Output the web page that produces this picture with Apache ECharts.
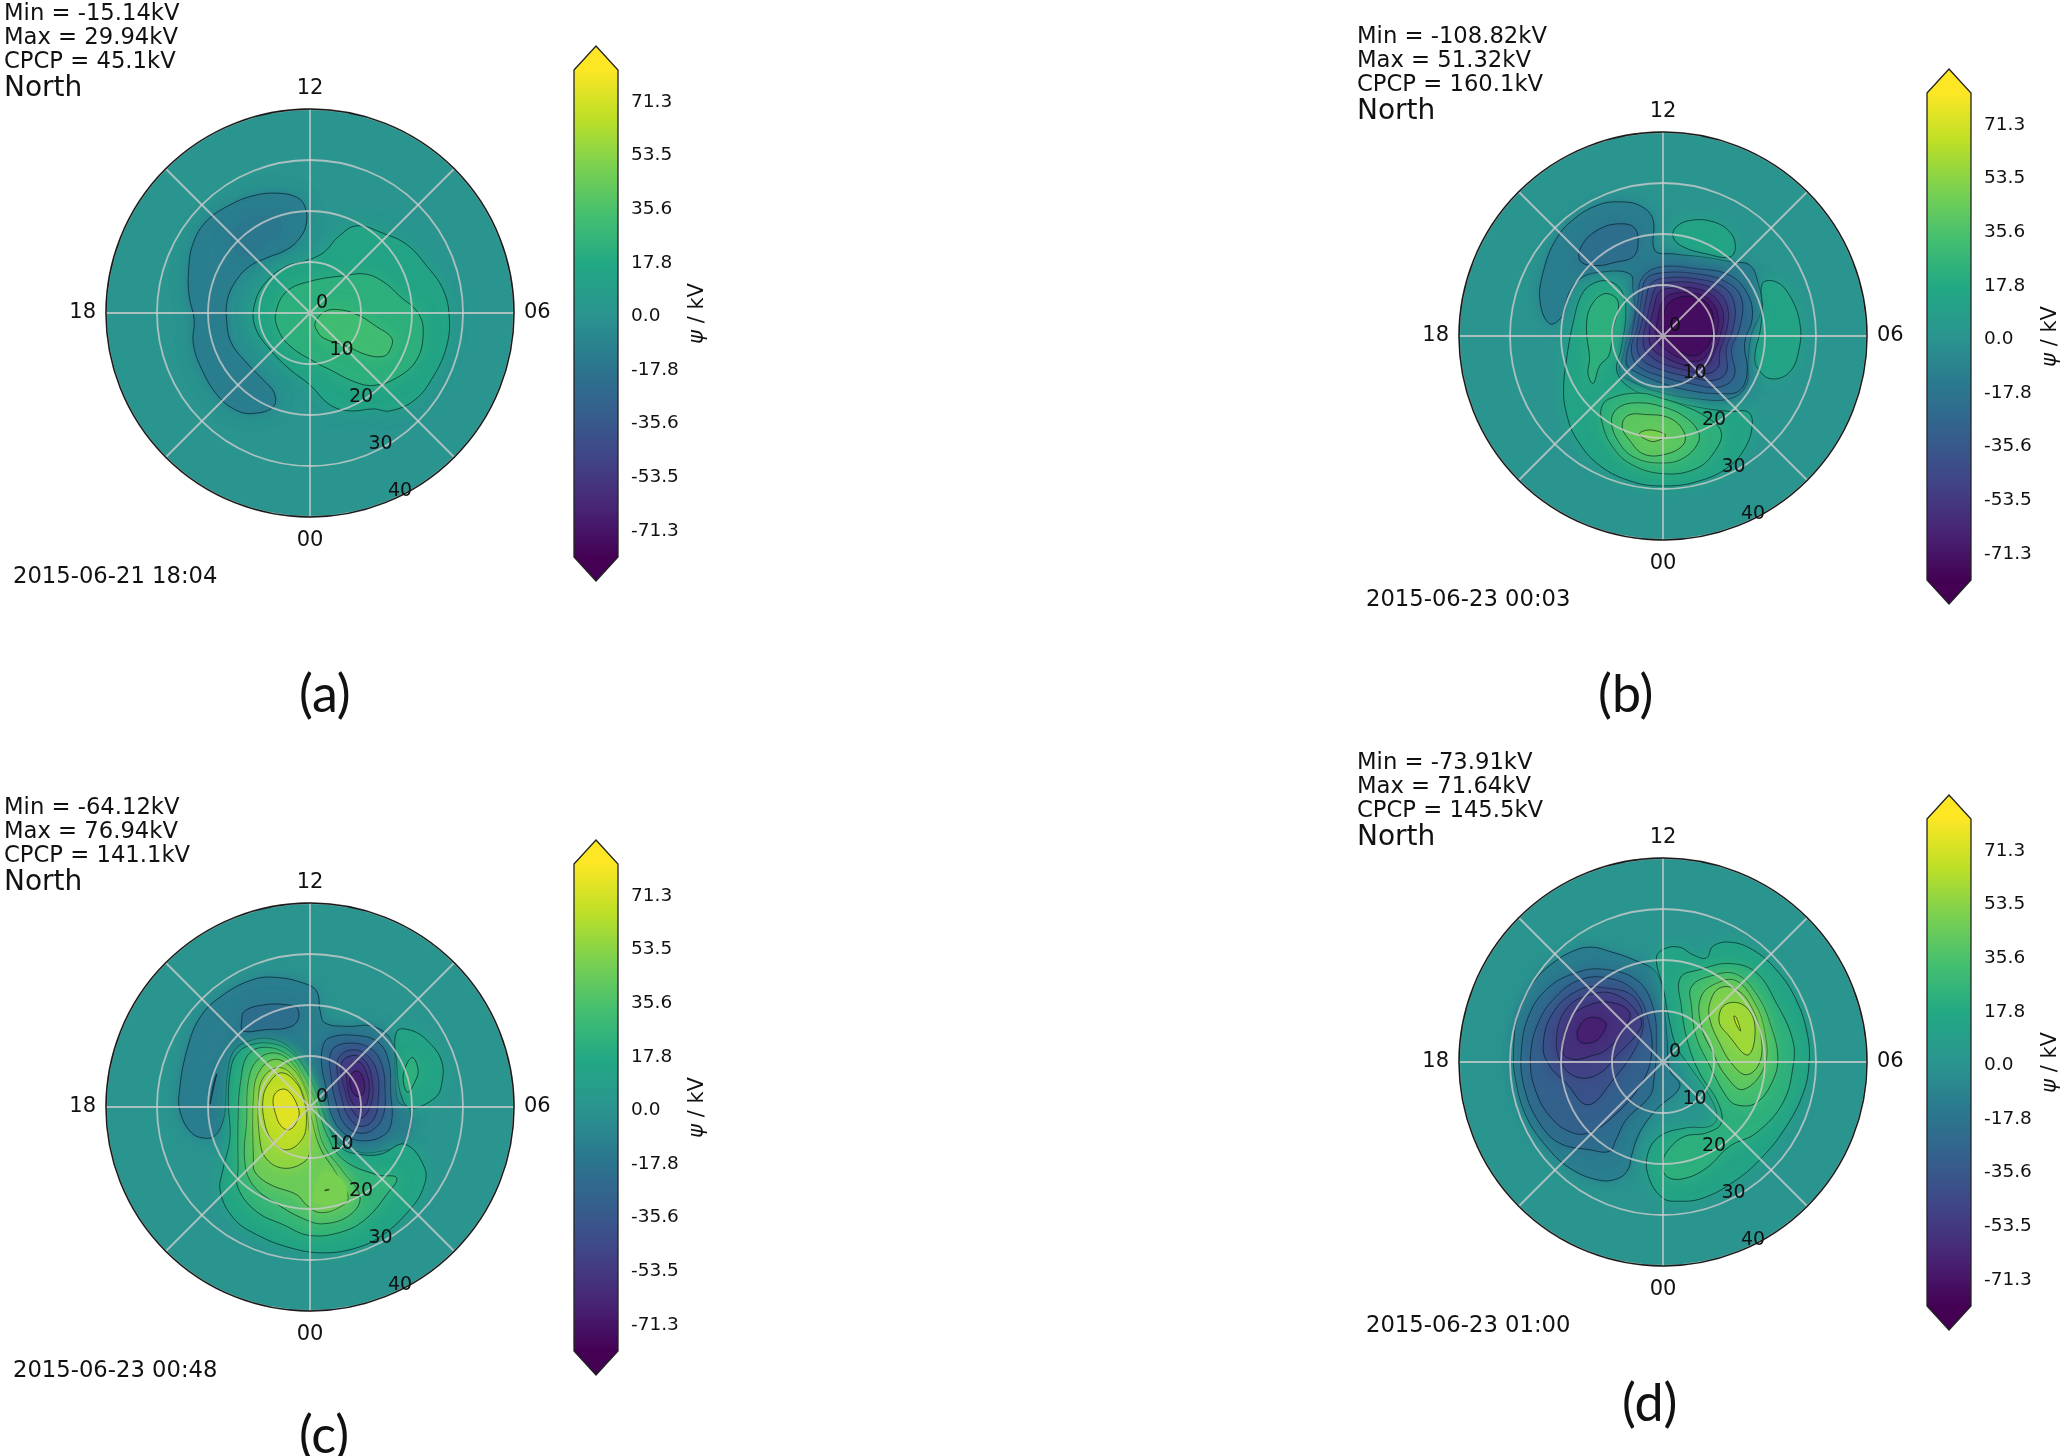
<!DOCTYPE html>
<html>
<head>
<meta charset="utf-8">
<style>html,body{margin:0;padding:0;background:#fff}#c{width:2067px;height:1456px}</style>
<script src="https://cdn.jsdelivr.net/npm/echarts@6/dist/echarts.min.js"></script>
</head>
<body>
<div id="c"></div>
<script>
// Text of each panel
const minLabels = ['Min = -15.14kV', 'Min = -108.82kV', 'Min = -64.12kV', 'Min = -73.91kV'];
const maxLabels = ['Max = 29.94kV', 'Max = 51.32kV', 'Max = 76.94kV', 'Max = 71.64kV'];
const cpcpLabels = ['CPCP = 45.1kV', 'CPCP = 160.1kV', 'CPCP = 141.1kV', 'CPCP = 145.5kV'];
const hemisphere = 'North';
const dateLabels = ['2015-06-21 18:04', '2015-06-23 00:03', '2015-06-23 00:48', '2015-06-23 01:00'];
const captions = ['(a)', '(b)', '(c)', '(d)'];
const hourLabels = {0: '00', 6: '06', 12: '12', 18: '18'};
const radiusTicks = [0, 10, 20, 30, 40];
const colorbarTicks = [-71.3, -53.5, -35.6, -17.8, 0, 17.8, 35.6, 53.5, 71.3];
const colorbarEnds = [-89, -81, 81, 89];

// Contours: [level kV, [[towards 06, towards 12] in degrees colatitude ...], outlined?]
const contoursA = [
  [-8.9, [[-1,20.9],[-2.6,22.7],[-6.5,23.5],[-11.1,23],[-15.7,21.2],[-20.3,18],[-22.9,13.7],[-23.8,8.5],[-23.7,3.3],[-22.7,-1.3],[-22.9,-5.9],[-21.2,-11.1],[-18,-16.3],[-14.4,-19.1],[-11.1,-19.7],[-7.2,-18.4],[-7,-15.7],[-9.2,-13.1],[-12.4,-9.8],[-15.4,-5.9],[-16.3,-2],[-16.2,2.6],[-14.4,6.5],[-11.8,9.2],[-8.5,10.8],[-4.6,12.4],[-2,14.7],[-0.7,17.6]]],
  [-13, [[-15.7,14.4],[-12.4,18.3],[-6.5,18.9],[-5.6,16.3],[-9.8,13.1],[-13.1,11.1]], false],
  [8.9, [[2.6,11.8],[5.6,15],[9.2,17.1],[14.4,15.6],[19,13.4],[22.9,9.2],[26.1,4.6],[27.3,-0.7],[26.8,-6.5],[24.2,-12.4],[20.6,-17],[15.7,-19.2],[12.4,-18.8],[7.8,-19.2],[3.9,-18],[0,-14.1],[-3.9,-11.1],[-7.8,-7.2],[-10.8,-2.6],[-10.8,2],[-8.5,6.2],[-4.6,9.2],[-1.3,10.1]]],
  [17.8, [[-6.7,0],[-4.6,4.2],[0,6.2],[6.5,7.3],[11.1,7.6],[14.7,5.9],[17.6,3.3],[21.2,0],[22.2,-3.9],[20.9,-9.2],[17,-12.7],[12.4,-14.2],[8.5,-13.4],[3.9,-11.1],[1.3,-9.8],[-3.9,-6.5],[-6.2,-3.3]]],
  [26.7, [[1,-2],[2.6,0.1],[5.2,0.7],[9.2,-0.3],[13.1,-2.7],[16,-4.9],[15.7,-7.2],[14.4,-8.5],[11.1,-8.2],[7.2,-6.5],[2.6,-4.9],[1.3,-3.3]]]
];
const contoursB = [
  [-8.9, [[-1.6,16.8],[-2,23],[-4.6,25.6],[-8.5,26.3],[-12.4,25.8],[-17,23.3],[-20.9,19.1],[-23.5,12.5],[-24.1,6.7],[-22.2,2.4],[-19.6,4.1],[-18.6,8],[-16.3,11.2],[-12.4,12.5],[-6.5,12.2],[-5.9,9.3],[-5.6,4.1],[-6.9,0.1],[-7.8,-3.8],[-8.5,-7.1],[-5.9,-9],[-0.7,-11],[6.5,-12.3],[13.1,-12.3],[16.3,-9.7],[16.7,-5.1],[17.3,0.1],[19.3,5.4],[18.6,10.6],[17,13.9],[13.7,14.5],[7.8,15.5],[2,16.1]]],
  [-17.8, [[-16.3,14.8],[-15.7,18.1],[-12.4,21],[-8.5,22],[-5.6,21.2],[-4.9,18.1],[-5.9,15.5],[-9.2,14.5],[-13.1,13.8]]],
  [-17.8, [[-4.2,11.2],[-0.7,13.5],[6.5,13.2],[13.1,11.9],[16.7,8],[17.5,3.4],[16,-1.2],[16.5,-7.1],[15,-10.7],[11.1,-11.3],[5.2,-10.7],[0,-9.3],[-5.2,-7.1],[-7.2,-5.4],[-6.2,0.1],[-4.9,6.7]]],
  [-26.7, [[-3.3,11.2],[0,12.4],[6.5,12.2],[12.4,10.6],[15.4,7.3],[15,1.4],[13.4,-2.5],[14,-7.7],[11.1,-10],[5.2,-9.3],[0,-8],[-4.9,-5.8],[-6.2,-2.5],[-5.1,1.4],[-4.2,7.3]]],
  [-35.6, [[-2.3,10.3],[0.7,11.4],[6.5,11.2],[11.8,9.6],[14,6.3],[13.7,1.4],[12.4,-2.5],[12.4,-7.1],[9.8,-8.7],[5.2,-8],[0,-6.7],[-3.9,-4.8],[-5.1,-1.8],[-4.1,2.7],[-3.3,7.3]]],
  [-44.5, [[-1.3,9.6],[1.3,10.5],[6.5,10.3],[10.8,8.6],[12.7,5.4],[12.4,0.8],[11.1,-3.1],[10.8,-6.1],[8.5,-7.4],[4.6,-6.7],[0,-5.4],[-2.9,-3.5],[-3.9,-1.2],[-3.1,3.4],[-2.3,7]]],
  [-53.4, [[-0.7,8.6],[2,9.4],[6.5,9.3],[10.1,7.6],[11.8,4.4],[11.4,0.8],[10.1,-3.1],[8.5,-5.8],[4.6,-5.8],[0.3,-4.1],[-2.3,-2.2],[-2.6,1.4],[-1.8,5.4]]],
  [-62.3, [[0.3,7.3],[2.6,8.4],[6.5,8.3],[9.5,6.7],[10.8,3.7],[10.5,0.5],[9.2,-2.8],[7.2,-4.8],[4.2,-4.6],[0.7,-2.8],[-1.2,-0.5],[-1,3.4]]],
  [-71.2, [[0.8,6],[3.3,7.6],[6.9,7.5],[9.2,5.7],[9.9,2.7],[9.5,-0.5],[7.8,-3.1],[5.6,-3.9],[2.6,-2.5],[0.7,-0.2],[0.1,2.7]]],
  [8.9, [[2,19.4],[2.6,21.4],[5.6,22.7],[9.8,22.4],[13.1,20.4],[14.2,17.5],[13.1,15.5],[8.5,16.1],[3.9,17.5]]],
  [8.9, [[19.5,10.3],[22.2,10.6],[24.8,8],[26.8,2.7],[26.7,-2.5],[24.8,-7.1],[21.2,-8.4],[18.6,-6.4],[18,-3.8],[19,0.8],[19.5,5.4]]],
  [8.9, [[-13.7,10.3],[-10.5,10.7],[-8,8.6],[-7.3,4.1],[-8.2,-2.5],[-9,-7.1],[-5.6,-10.7],[0,-12.3],[6.5,-13.9],[13.1,-14.8],[16.7,-14.9],[17.5,-17.5],[16,-22.1],[12.4,-26],[6.5,-28.6],[0,-29.4],[-5.9,-28.6],[-12.4,-25.4],[-17,-20.1],[-19,-14.9],[-19.5,-10.3],[-18.8,-3.8],[-17.6,2.7],[-16,8]]],
  [17.8, [[-11.4,8.3],[-8.8,6.7],[-9.8,1.4],[-10.6,-3.8],[-12.4,-5.8],[-13.7,-9.3],[-14.7,-7.4],[-14.4,-4.4],[-15,1.4],[-14.2,5.7]]],
  [17.8, [[-12.1,-14.2],[-10.5,-12.3],[-4.6,-11.2],[0,-12.3],[3.9,-13.6],[8.5,-15.9],[11.4,-18.8],[10.1,-22.7],[6.5,-26],[0,-27],[-6.5,-25],[-10.1,-21.4],[-11.8,-17.5]]],
  [26.7, [[-10.1,-16.5],[-8.5,-13.9],[-4.6,-13.1],[0,-13.9],[3.9,-15.6],[6.8,-18.5],[6.8,-21.1],[3.9,-24],[0,-24.9],[-5.2,-24],[-8.5,-21.1]]],
  [35.6, [[-8,-17.8],[-6.9,-15.6],[-3.3,-15.4],[1.3,-16.1],[4.1,-18.8],[3.9,-21.4],[0,-23.3],[-3.9,-23.1],[-6.5,-20.5]]],
  [44.5, [[-4.6,-19.2],[-3.3,-18.5],[-1.3,-18.6],[0.5,-19.5],[-1,-20.5],[-2.6,-20.6]]]
];
const contoursC = [
  [-8.9, [[2,18.8],[1.3,22.7],[-1.3,24.3],[-6.5,25.4],[-11.1,25],[-17,22],[-21.6,17.5],[-24.2,10.9],[-25.6,3.1],[-25.5,-0.8],[-23.5,-4.8],[-20.9,-6.1],[-18.6,-5.6],[-16.9,-2.2],[-16.5,1.8],[-16.2,6.3],[-15,10.9],[-12.1,12.9],[-7.8,13.4],[-3.9,11.6],[-1,7.6],[1,3.1],[2.9,-1.5],[4.9,-6.1],[9.2,-8.7],[13.7,-8.7],[18.6,-6.7],[19.6,-0.5],[17.3,1.1],[16.7,7],[16,12.9],[12.4,15.8],[7.2,15.8],[2.9,16.5]]],
  [-17.8, [[-13.4,16.8],[-12.8,18.8],[-9.2,20],[-5.2,20.1],[-2.5,19.3],[-2.5,16.8],[-4.6,15.5],[-8.5,15.2],[-13.1,14.9]]],
  [-17.8, [[-18.3,6.5],[-19.1,3.7],[-19.6,0.6],[-18.9,3.7]]],
  [-17.8, [[2.6,12.2],[3.9,13.6],[7.8,14.1],[13.1,12.9],[15.4,9],[15.8,3],[16,-2.8],[14.4,-5.6],[9.8,-6.6],[6.5,-5],[4.2,-1.5],[3.3,3],[2.3,8.2]]],
  [-26.7, [[4.2,10.9],[7.2,12.5],[11.8,11.5],[14.1,8.2],[14.7,3],[14.4,-1.5],[12.4,-4.4],[9.5,-5.1],[6.9,-3.5],[5.2,0.5],[4.2,5.5]]],
  [-35.6, [[5.6,9.6],[8.2,11.2],[11.1,10.2],[13.1,7],[13.4,1.8],[12.4,-2.5],[9.8,-3.8],[7.5,-1.8],[6.2,1.8],[5.4,6.3]]],
  [-44.5, [[6.2,8.6],[8.5,10.1],[10.8,9],[12.1,5.7],[12.1,1.1],[10.1,-2.2],[8.2,-0.5],[6.9,3]]],
  [-53.4, [[7.5,7.6],[9.5,8.9],[11.1,6.6],[11.6,3.1],[10.5,-0.2],[8.5,0.5],[7.3,4.4]]],
  [-62.3, [[8,6.3],[9.5,7],[10.6,4.9],[10.5,2.7],[9.2,2.1],[8,3.7]]],
  [8.9, [[17,14.8],[19.9,15],[23.1,12.9],[25.8,9],[25.8,4.4],[24.5,1.8],[19.9,-0.2],[18,1.8],[17,8.4]]],
  [17.8, [[20,9.7],[21.2,7.3],[20.6,5],[19.1,2.9],[18.3,6.3]]],
  [10, [[-17.6,-16.5],[-17,-12],[-15.7,-6.1],[-16,1.1],[-15.6,7],[-14.4,10.3],[-11.8,12.1],[-7.8,12.5],[-3.9,10.9],[-0.7,7],[1.6,1.8],[3.6,-3.8],[6.2,-8],[9.2,-9.2],[13.7,-9.3],[18.6,-7.3],[22.5,-12],[22.2,-15.9],[19.6,-20.1],[14.4,-25],[9.2,-27.6],[2.6,-28.6],[-3.9,-27.6],[-10.5,-25],[-15,-21.8]]],
  [20, [[-14.1,-12],[-14.1,-2.2],[-13.6,5],[-12.1,10.3],[-8.5,11.7],[-3.9,9.9],[-1.3,6.3],[1.3,0.5],[3.3,-5.4],[6.5,-10.3],[13.1,-13.3],[17,-13.9],[15,-17.2],[11.1,-21.8],[6.5,-24.4],[0,-25.2],[-5.2,-23.1],[-10.5,-20.5],[-14.1,-15.9]]],
  [30, [[-12.8,-10.7],[-12.4,-2.2],[-12.1,5],[-10.5,9],[-7.2,10.6],[-3.9,9],[-1.3,5],[0.7,-0.2],[2.6,-7.3],[6.5,-12.7],[9.8,-17.6],[7.8,-21.2],[2.6,-22.9],[-1.3,-21.9],[-6.5,-19],[-11.1,-15.4]]],
  [40, [[-11.1,-10],[-11.1,1.8],[-10.1,6.7],[-7.2,9.3],[-3.9,8],[-1,3.7],[0.3,-2.2],[2,-8],[4.9,-12.6],[7.5,-17.6],[5.9,-19.6],[2,-20.7],[-0.7,-19.2],[-2.6,-17.2],[-7.8,-15.2],[-10.8,-12.7]]],
  [44, [[2.6,-12.6],[5.9,-13.9],[7.2,-17.2],[3.9,-19.2],[0.7,-18.3],[1.3,-15.4]], false],
  [50, [[2.9,-16.3],[3.7,-16.1],[3.7,-16.3],[2.9,-16.4]]],
  [50, [[-9.8,-6.7],[-10.1,1.8],[-9.2,5.7],[-6.5,7.7],[-3.9,6.7],[-1.3,2.4],[-0.3,-3.5],[0,-8.7],[-1.3,-10.9],[-5.2,-12],[-8.5,-10.2]]],
  [60, [[-8.8,-3.5],[-9.2,1.8],[-7.8,5],[-5.6,6.7],[-2.9,5],[-1.3,1.8],[-0.7,-2.8],[-1.6,-6.4],[-4.6,-8.4],[-7.2,-6.8]]],
  [70, [[-6.7,-1.5],[-7.2,1.8],[-5.9,3.4],[-4.2,3.1],[-2.3,-0.2],[-2.3,-2.2],[-3.9,-4.4],[-5.6,-3.8]]]
];
const contoursD = [
  [-8.9, [[-10.5,21.7],[-13.7,22.5],[-17,22],[-21.6,19.4],[-25.5,15.5],[-28.4,9.6],[-29.3,1.8],[-28.9,-3.5],[-26.8,-10.7],[-22.9,-16.5],[-18.3,-20.8],[-12.4,-23.2],[-8.5,-22.7],[-6.7,-20.8],[-6.2,-18.5],[-4.6,-13.9],[-1.3,-9.3],[3.3,-4.8],[1.3,-1.5],[0.8,4.4],[0,12.2],[-1.3,17.5],[-5.9,20.1]]],
  [-17.8, [[-11.8,18.2],[-17,17.5],[-22.2,14.8],[-26.1,9.6],[-27.8,1.8],[-27.1,-5.4],[-24.2,-12],[-20.3,-15.9],[-14.4,-17.2],[-10.5,-17.5],[-9.2,-15.2],[-7.2,-11.3],[-2.6,-6.7],[-1.8,-3.5],[-1.3,3.1],[-2,10.9],[-5.2,16.1]]],
  [-26.7, [[-11.1,16.5],[-16.3,16.1],[-20.9,12.9],[-24.5,7.6],[-26,0.5],[-24.8,-6.1],[-21.6,-11.3],[-17.6,-13.9],[-14.4,-13.8],[-9.8,-10.7],[-4.6,-4.8],[-2.3,1.1],[-2.9,8.3],[-5.9,14.2]]],
  [-35.6, [[-23.5,3.1],[-21.6,9.6],[-16.3,14.2],[-11.1,14.5],[-5.9,12.9],[-3.9,8.3],[-5.2,3.1],[-9.8,-3.5],[-14.7,-8.4],[-19,-4.1],[-22.2,-0.8]]],
  [-44.5, [[-20.9,4.4],[-19,10.3],[-14.4,13.2],[-9.2,13.2],[-4.6,9],[-4.6,6.3],[-9.2,1.1],[-12.4,-2.2],[-16.3,-3.1],[-19.6,-0.8]]],
  [-53.4, [[-19.6,1.8],[-18.3,8.3],[-14.4,11.2],[-9.8,11.6],[-6.5,9.6],[-7.8,6.3],[-11.1,2.4],[-14.4,1.1],[-17.6,0.5]]],
  [-62.3, [[-16.7,6.3],[-14.4,8.7],[-11.3,7.8],[-11.8,5.6],[-13.7,3.9],[-16.3,4]]],
  [8.9, [[-1.3,20.4],[0.3,22.2],[3.3,22.5],[5.9,21],[8.5,20.4],[9.8,22.7],[13.1,23.5],[17.6,22],[22.2,18.1],[26.1,12.2],[28.4,5],[28.6,-0.8],[27.5,-6.1],[24.2,-12.6],[19.6,-18.5],[14.4,-23.1],[7.8,-26.7],[2.6,-27.3],[0,-26.7],[-2.6,-23.1],[-3.1,-18.5],[-0.7,-14.6],[4.6,-12.9],[9.2,-12.6],[10.6,-10.7],[8.8,-6.1],[5.2,-0.8],[2.6,3.1],[1.2,8.3],[0.1,14.2]]],
  [17.8, [[3.4,16.5],[7.2,18.1],[13.1,19.3],[18.3,17.5],[22.2,11.6],[25.4,4.4],[25.5,-0.8],[23.5,-8],[18.3,-13.9],[13.1,-16.5],[8.5,-20.8],[3.9,-22.9],[0.7,-22.4],[-0.1,-19.8],[1.3,-16.9],[4.2,-14.6],[8.5,-13.9],[11.4,-12],[10.8,-8],[7.2,-2.2],[4.9,3.7],[3.6,10.9]]],
  [26.7, [[5.6,14.8],[9.5,16.9],[14.4,17.2],[18.6,12.9],[21.2,7],[22.5,1.1],[21.6,-3.5],[18.3,-8],[14.4,-8.4],[12.4,-6.7],[9.2,-0.8],[6.5,5],[5.6,10.9]]],
  [35.6, [[7.5,12.9],[11.1,15.7],[14.4,15.9],[17.6,12.3],[19.9,6.3],[19.9,-0.8],[15.7,-5.4],[12.4,-2.8],[9.8,1.8],[7.5,7]]],
  [44.5, [[9.2,11.6],[11.1,14.5],[14.4,14.2],[17.3,10.9],[19.2,5],[18.9,-0.2],[16.3,-2.5],[13.4,-0.2],[11.1,3.7],[9.2,8.3]]],
  [53.4, [[12.1,11.2],[15.7,11.2],[18,7.3],[16.7,1.4],[12.7,5.4],[11,8]]],
  [62.3, [[13.9,9],[14.4,8.7],[15.2,6.1],[14.4,7.3]]]
];
const panelContours = [contoursA, contoursB, contoursC, contoursD];

// Layout (pixels) and styles
const panelOffsets = [[0, 0], [1353, 23], [0, 794], [1353, 749]];
const captionCentres = [[326, 692], [1625, 692], [326, 1433], [1649, 1401]];
const viridis = ['#440154','#482475','#414487','#355f8d','#2a788e','#2a958f','#22a884','#44bf70','#7ad151','#bddf26','#fde725'];
const mono = '"DejaVu Sans"';
const colorRange = 81;
const gridLine = {color: 'rgba(205,205,205,0.78)', width: 1.8};

function hex(c){return [1,3,5].map(i=>parseInt(c.slice(i,i+2),16));}
function kvColor(v){
  let t = (Math.max(-colorRange, Math.min(colorRange, v)) + colorRange) / (2 * colorRange) * 10;
  const i = Math.min(9, Math.floor(t)); t -= i;
  const a = hex(viridis[i]), b = hex(viridis[i + 1]);
  return 'rgb(' + a.map((x, k) => Math.round(x + (b[k] - x) * t)).join(',') + ')';
}
// Colatitude east/north of the pole -> [radius, magnetic local time]
function toPolar(p){
  const mlt = (Math.atan2(p[0], -p[1]) * 180 / Math.PI + 360) % 360 / 15;
  return [Math.hypot(p[0], p[1]), mlt];
}

const option = {
  backgroundColor: '#fff',
  animation: false,
  title: [], polar: [], angleAxis: [], radiusAxis: [], grid: [], xAxis: [], yAxis: [], series: []
};

function addTitle(text, left, top, size, family){
  option.title.push({text, left, top, padding: 0, textStyle: {fontSize: size, fontWeight: 'normal', color: '#111', fontFamily: family || mono}});
}

panelOffsets.forEach(function (off, i) {
  const ox = off[0], oy = off[1];
  addTitle(minLabels[i], 4 + ox, 3 + oy, 22.7);
  addTitle(maxLabels[i], 4 + ox, 27 + oy, 22.7);
  addTitle(cpcpLabels[i], 4 + ox, 51 + oy, 22.7);
  addTitle(hemisphere, 4 + ox, 75 + oy, 28);
  addTitle(dateLabels[i], 13 + ox, 566 + oy, 22.7);
  addTitle(captions[i], captionCentres[i][0] - 27, captionCentres[i][1] - 23, 52, 'Lato');

  option.polar.push({center: [310 + ox, 313 + oy], radius: 204});
  option.angleAxis.push({
    polarIndex: i, type: 'value', min: 0, max: 24, interval: 3, startAngle: 270, clockwise: false, z: 5,
    axisTick: {show: false},
    axisLine: {show: true, lineStyle: {color: '#1a1a1a', width: 1.5}},
    splitLine: {show: true, lineStyle: gridLine},
    axisLabel: {show: true, margin: 10, color: '#111', fontSize: 21, fontFamily: mono, padding: [3, 0, 0, 0],
      formatter: v => hourLabels[v] !== undefined ? hourLabels[v] : ''}
  });
  option.radiusAxis.push({
    polarIndex: i, type: 'value', min: 0, max: 40, interval: 10, z: 5,
    axisLine: {show: false}, axisTick: {show: false}, axisLabel: {show: false},
    splitLine: {show: true, lineStyle: gridLine}
  });

  // Filled contours, outermost first, over a disc of the zero colour
  const sorted = panelContours[i].map(c => c.slice()).sort((a, b) => Math.abs(a[0]) - Math.abs(b[0]));
  const polarPts = sorted.map(c => c[1].map(toPolar));
  const data = [[0, 0, 0]].concat(sorted.map((c, k) => [polarPts[k][0][0], polarPts[k][0][1], c[0]]));
  option.series.push({
    type: 'custom', coordinateSystem: 'polar', polarIndex: i, silent: true, z: 2,
    encode: {radius: 0, angle: 1}, data: data,
    renderItem: function (params, api) {
      const k = params.dataIndex;
      if (k === 0) {
        const c = api.coord([0, 0]), e = api.coord([40, 0]);
        return {type: 'circle', shape: {cx: c[0], cy: c[1], r: Math.hypot(e[0] - c[0], e[1] - c[1])}, style: {fill: kvColor(0)}};
      }
      const level = sorted[k - 1][0], outlined = sorted[k - 1][2] !== false;
      const shown = level + Math.sign(level) * 4;
      const col = kvColor(shown);
      return {
        type: 'polygon',
        shape: {points: polarPts[k - 1].map(p => api.coord(p)), smooth: 0.4},
        style: {fill: col, stroke: outlined ? 'rgba(0,20,30,0.62)' : null, lineWidth: 1, shadowBlur: 16, shadowColor: col}
      };
    }
  });
  // Radial tick labels along the 22.5 degree spoke from midnight
  option.series.push({
    type: 'custom', coordinateSystem: 'polar', polarIndex: i, silent: true, z: 8,
    encode: {radius: 0, angle: 1}, data: radiusTicks.map(r => [r, 1.5]),
    renderItem: function (params, api) {
      const p = api.coord([api.value(0), api.value(1)]);
      return {type: 'text', x: p[0] + 12, y: p[1] - 10, style: {text: String(radiusTicks[params.dataIndex]), fill: '#111', font: '19px ' + mono, textAlign: 'center', textVerticalAlign: 'middle'}};
    }
  });

  // Colour bar
  option.grid.push({left: 574 + ox, top: 70 + oy, width: 44, height: 487});
  option.xAxis.push({gridIndex: i, type: 'value', min: 0, max: 1, show: false});
  option.yAxis.push({
    gridIndex: i, type: 'value', position: 'right', min: -colorRange, max: colorRange,
    name: '{i|ψ} / kV', nameLocation: 'middle', nameRotate: 90, nameGap: 69,
    nameTextStyle: {fontSize: 21, fontFamily: mono, color: '#111', rich: {i: {fontStyle: 'italic', fontSize: 21, fontFamily: mono, color: '#111'}}},
    axisLine: {show: false},
    axisTick: {show: true, length: 6, customValues: colorbarTicks, lineStyle: {color: '#222', width: 1.2}},
    axisLabel: {show: true, margin: 13, fontSize: 18.5, fontFamily: mono, color: '#111', customValues: colorbarTicks,
      formatter: v => '{t|' + v.toFixed(1) + '}',
      rich: {t: {fontSize: 18.5, fontFamily: mono, color: '#111', padding: [6, 0, 0, 0]}},
      showMinLabel: true, showMaxLabel: true},
    splitLine: {show: false}
  });
  const span = colorbarEnds[3] - colorbarEnds[0];
  const tip = (colorbarEnds[3] - colorbarEnds[2]) / span;
  const stops = [{offset: 0, color: viridis[10]}, {offset: tip, color: viridis[10]}]
    .concat(viridis.slice().reverse().map((c, n) => ({offset: tip + (1 - 2 * tip) * n / 10, color: c})))
    .concat([{offset: 1, color: viridis[0]}]);
  option.series.push({
    type: 'custom', coordinateSystem: 'cartesian2d', xAxisIndex: i, yAxisIndex: i, silent: true, clip: false, z: 2,
    data: [[0, colorbarEnds[0]]],
    renderItem: function (params, api) {
      const e = colorbarEnds;
      const pts = [[0, e[2]], [0.5, e[3]], [1, e[2]], [1, e[1]], [0.5, e[0]], [0, e[1]]].map(p => api.coord(p));
      return {type: 'polygon', shape: {points: pts},
        style: {fill: new echarts.graphic.LinearGradient(0, 0, 0, 1, stops), stroke: '#222', lineWidth: 1.3}};
    }
  });
});

const chart = echarts.init(document.getElementById('c'), null, {renderer: 'canvas', width: 2067, height: 1456});
chart.setOption(option);
</script>
</body>
</html>
